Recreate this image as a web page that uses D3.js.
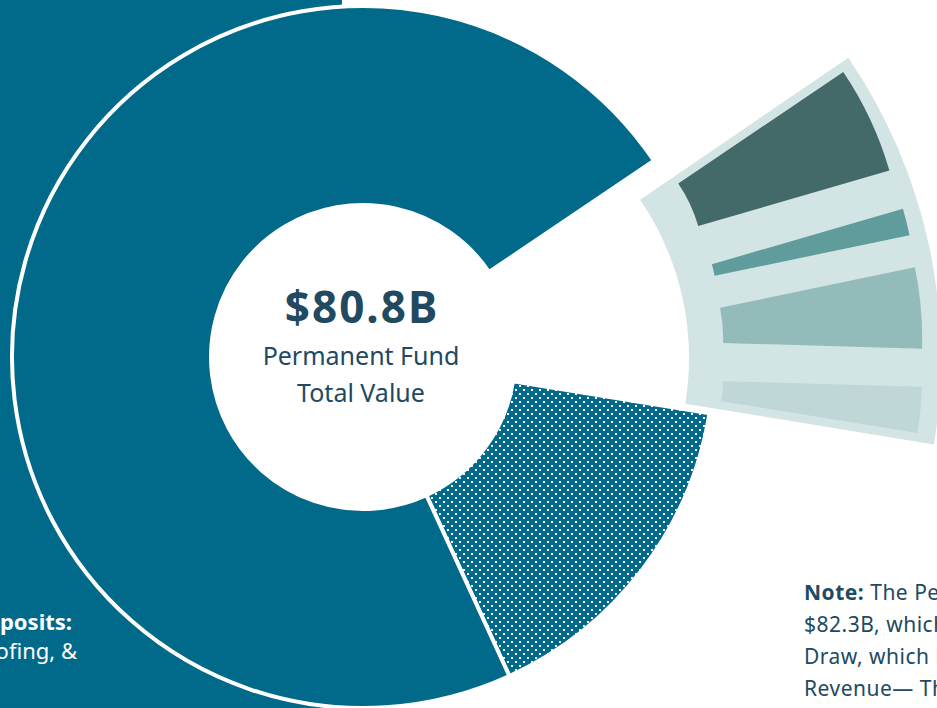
<!DOCTYPE html>
<html>
<head>
<meta charset="utf-8">
<script src="https://cdn.jsdelivr.net/npm/d3@7"></script>
<style>
  html, body { margin: 0; padding: 0; background: #ffffff; overflow: hidden; }
  svg { display: block; }
</style>
</head>
<body>
<svg id="chart" width="937" height="708"></svg>
<script>
// ---------------- DATA ----------------
const fundLabels = ["Earnings Reserve Account", "Unrealized Gains", "Principal"];
const fundValues = [9.7, 12.6, 58.5];          // $ billions, total 80.8

const eraLabels = ["ERA part 1", "ERA part 2", "ERA part 3", "ERA part 4"];
const eraValues = [4.0, 1.0, 3.0, 1.7];         // breakout of the Earnings Reserve slice

const centerLines = ["$80.8B", "Permanent Fund", "Total Value"];
const leftLines = ["Dedicated Deposits:", "Royalties, Inflation Proofing, &"];
const noteBold = "Note:";
const noteLines = [
  " The Permanent Fund's total value was",
  "$82.3B, which includes the POMV",
  "Draw, which is transferred to the General",
  "Revenue\u2014 The remaining balance"
];

// ---------------- STYLE / LAYOUT ----------------
const W = 937, H = 708;
const deg = Math.PI / 180;
const cx = 363, cy = 357, rIn = 152, rOut = 351;
const teal = "#016a8a";
const navy = "#21495f";
const panelColor = "#d3e4e4";
const eraColors = ["#436a68", "#5f9c9b", "#93bbba", "#bfd7d6"];
const font = "'Noto Sans', 'Open Sans', sans-serif";

const svg = d3.select("#chart");

// dotted pattern
const defs = svg.append("defs");
const pat = defs.append("pattern")
  .attr("id", "dots").attr("patternUnits", "userSpaceOnUse")
  .attr("width", 8).attr("height", 8);
pat.append("rect").attr("width", 8).attr("height", 8).attr("fill", teal);
pat.append("rect").attr("x", 0).attr("y", 0).attr("width", 2).attr("height", 2).attr("fill", "#ffffff");
pat.append("rect").attr("x", 4).attr("y", 4).attr("width", 2).attr("height", 2).attr("fill", "#ffffff");

// teal side panel behind donut
svg.append("rect")
  .attr("x", -10).attr("y", -10).attr("width", 352).attr("height", H + 20)
  .attr("fill", teal);

// main donut pie
const pie = d3.pie().sort(null).value(d => d.value)
  .startAngle(56 * deg).endAngle(56 * deg + 2 * Math.PI);
const slices = pie(fundLabels.map((l, i) => ({ label: l, value: fundValues[i] })));
const era = slices[0];

const arc = d3.arc().innerRadius(rIn).outerRadius(rOut);
const donut = svg.append("g").attr("transform", `translate(${cx},${cy})`);

donut.selectAll("path.slice")
  .data(slices.slice(1))
  .join("path")
  .attr("class", "slice")
  .attr("d", arc)
  .attr("fill", d => d.data.label === "Unrealized Gains" ? "url(#dots)" : teal)
  .attr("stroke", "#ffffff")
  .attr("stroke-width", 4)
  .attr("stroke-linejoin", "miter");

// white hole
donut.append("circle").attr("r", rIn - 1).attr("fill", "#ffffff");

// exploded Earnings Reserve panel
const panelArc = d3.arc().innerRadius(281).outerRadius(533);
svg.append("path")
  .attr("transform", `translate(${cx + 45},${cy + 1})`)
  .attr("d", panelArc({ startAngle: era.startAngle - 0.3 * deg, endAngle: era.endAngle + 0.13 * deg }))
  .attr("fill", panelColor);

// exploded breakout bars
const subPie = d3.pie().sort(null).value(d => d.value)
  .startAngle(era.startAngle).endAngle(era.endAngle);
const subSlices = subPie(eraLabels.map((l, i) => ({ label: l, value: eraValues[i] })));
const explode = 209;
const color = d3.scaleOrdinal(eraLabels, eraColors);

svg.selectAll("path.era")
  .data(subSlices)
  .join("path")
  .attr("class", "era")
  .attr("transform", d => {
    const m = (d.startAngle + d.endAngle) / 2;
    return `translate(${cx + explode * Math.sin(m)},${cy - explode * Math.cos(m)})`;
  })
  .attr("d", arc)
  .attr("fill", d => color(d.data.label));

// center labels
const ct = svg.append("g").attr("fill", navy).attr("text-anchor", "middle").style("font-family", font);
ct.append("text").attr("x", 362).attr("y", 323)
  .style("font-size", "44px").style("font-weight", 700).style("letter-spacing", "2px")
  .text(centerLines[0]);
ct.append("text").attr("x", 361).attr("y", 365)
  .style("font-size", "25px").text(centerLines[1]);
ct.append("text").attr("x", 361).attr("y", 402)
  .style("font-size", "25px").text(centerLines[2]);

// left labels (cut off by the frame, as in the source)
const lt = svg.append("g").attr("fill", "#ffffff").attr("text-anchor", "end").style("font-family", font)
  .style("font-size", "22px");
lt.append("text").attr("x", 72).attr("y", 630).style("font-weight", 700).text(leftLines[0]);
lt.append("text").attr("x", 77).attr("y", 659).text(leftLines[1]);

// note (cut off by the frame, as in the source)
const nt = svg.append("g").attr("fill", navy).style("font-family", font).style("font-size", "21px")
  .style("letter-spacing", "0.5px");
const n0 = nt.append("text").attr("x", 804).attr("y", 600);
n0.append("tspan").style("font-weight", 700).text(noteBold);
n0.append("tspan").text(noteLines[0]);
noteLines.slice(1).forEach((t, i) => {
  nt.append("text").attr("x", 804).attr("y", 632 + i * 32).text(t);
});
</script>
</body>
</html>
